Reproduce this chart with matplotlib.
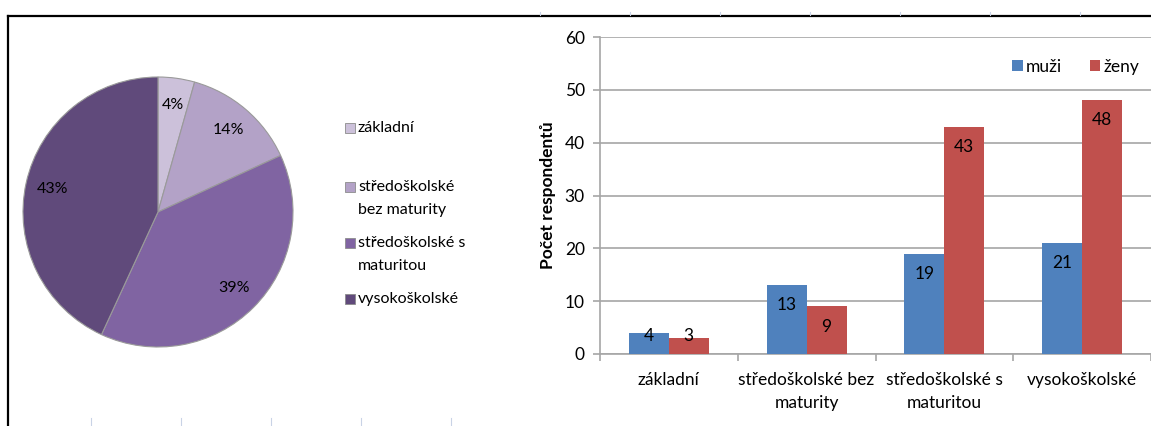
import matplotlib
matplotlib.use("Agg")
import matplotlib.pyplot as plt
from matplotlib.lines import Line2D
from matplotlib.patches import Rectangle
import numpy as np

# ---------------- data ----------------
categories = ["základní", "středoškolské bez\nmaturity", "středoškolské s\nmaturitou", "vysokoškolské"]
pie_labels = [["základní"], ["středoškolské", "bez maturity"], ["středoškolské s", "maturitou"], ["vysokoškolské"]]
pie_counts = [7, 22, 62, 69]
muzi = [4, 13, 19, 21]
zeny = [3, 9, 43, 48]
series_names = ["muži", "ženy"]
y_ticks = [0, 10, 20, 30, 40, 50, 60]
y_label = "Počet respondentů"

# ---------------- style ----------------
W, H = 1151, 426
plt.rcParams['font.family'] = ['Lato', 'DejaVu Sans']
FS_PIE = 11.5
FS_BAR = 12.5
pie_colors = ["#CCC1DA", "#B3A2C7", "#8064A2", "#604A7B"]
bar_colors = ["#4F81BD", "#C0504D"]
grid_gray = "#A6A6A6"

fig = plt.figure(figsize=(W / 100, H / 100), dpi=100)


def fx(px):
    return px / W


def fy(py):
    return 1 - py / H


# spreadsheet frame lines
fig.add_artist(Line2D([fx(8), 1], [fy(16), fy(16)], color="black", lw=1.6, transform=fig.transFigure))
fig.add_artist(Line2D([fx(8), fx(8)], [fy(16), 0], color="black", lw=1.6, transform=fig.transFigure))
for xp in [540, 630, 720, 810, 900, 990, 1080]:
    fig.add_artist(Line2D([fx(xp), fx(xp)], [fy(12), fy(15)], color="#C9D3E6", lw=0.8, transform=fig.transFigure))
for xp in [91, 181, 271, 361, 451]:
    fig.add_artist(Line2D([fx(xp), fx(xp)], [fy(418), 0], color="#C9D3E6", lw=0.8, transform=fig.transFigure))

# ---------------- pie ----------------
cx, cy, r = 158, 212, 135
ax_pie = fig.add_axes([fx(cx - r), fy(cy + r), (2 * r) / W, (2 * r) / H])
wedges, texts, autotexts = ax_pie.pie(
    pie_counts, colors=pie_colors, startangle=90, counterclock=False,
    autopct=lambda p: f"{p:.0f}%", pctdistance=0.8,
    wedgeprops=dict(edgecolor="#9A9A9A", linewidth=0.8),
    textprops=dict(fontsize=FS_PIE, color="black"))
ax_pie.set_xlim(-1, 1)
ax_pie.set_ylim(-1, 1)

# pie legend (manual, Excel-like)
legend_rows = [128, 187, 243, 299]
line_gap = 23
for lines, col, yrow in zip(pie_labels, pie_colors, legend_rows):
    fig.add_artist(Rectangle((fx(345), fy(yrow + 5)), 10 / W, 10 / H, facecolor=col,
                             edgecolor="#8C8C8C", lw=0.6, transform=fig.transFigure))
    for k, line in enumerate(lines):
        fig.text(fx(358), fy(yrow + k * line_gap), line, fontsize=FS_PIE, ha="left", va="center")

# ---------------- bars ----------------
ax = fig.add_axes([fx(600), fy(354), (W - 600) / W, (354 - 37) / H])
x = np.arange(len(categories))
bw = 0.29
b1 = ax.bar(x - bw / 2, muzi, bw, color=bar_colors[0], label=series_names[0], zorder=3)
b2 = ax.bar(x + bw / 2, zeny, bw, color=bar_colors[1], label=series_names[1], zorder=3)

for bars, vals in ((b1, muzi), (b2, zeny)):
    for rect, v in zip(bars, vals):
        ax.text(rect.get_x() + rect.get_width() / 2, max(v - 3.8, 3.4), str(v),
                ha="center", va="center", fontsize=FS_BAR, color="black", zorder=4)

ax.set_xlim(-0.5, len(categories) - 0.5)
ax.set_ylim(0, 60)
ax.set_yticks(y_ticks)
ax.set_yticklabels([str(t) for t in y_ticks], fontsize=FS_BAR)
ax.set_xticks(x)
ax.set_xticklabels(categories, fontsize=FS_BAR, linespacing=1.5)
ax.set_xticks(np.arange(-0.5, len(categories)), minor=True)
ax.tick_params(axis="x", which="major", length=0, pad=13)
ax.tick_params(axis="x", which="minor", length=5, color=grid_gray, width=1.2, direction="out")
ax.tick_params(axis="y", length=5, color=grid_gray, width=1.2, pad=6)
ax.yaxis.grid(True, color=grid_gray, lw=1.2, zorder=0)
ax.set_axisbelow(True)
for s in ["top", "right"]:
    ax.spines[s].set_visible(False)
for s in ["left", "bottom"]:
    ax.spines[s].set_color(grid_gray)
    ax.spines[s].set_linewidth(1.2)
ax.set_ylabel(y_label, fontsize=FS_BAR, fontweight="bold", labelpad=6)

ax.legend(loc="upper right", bbox_to_anchor=(1.008, 0.98), ncol=2, frameon=False, fontsize=FS_BAR,
          handlelength=0.6, handleheight=0.6, handletextpad=0.2, columnspacing=1.6)

fig.savefig("out.png", dpi=100)
